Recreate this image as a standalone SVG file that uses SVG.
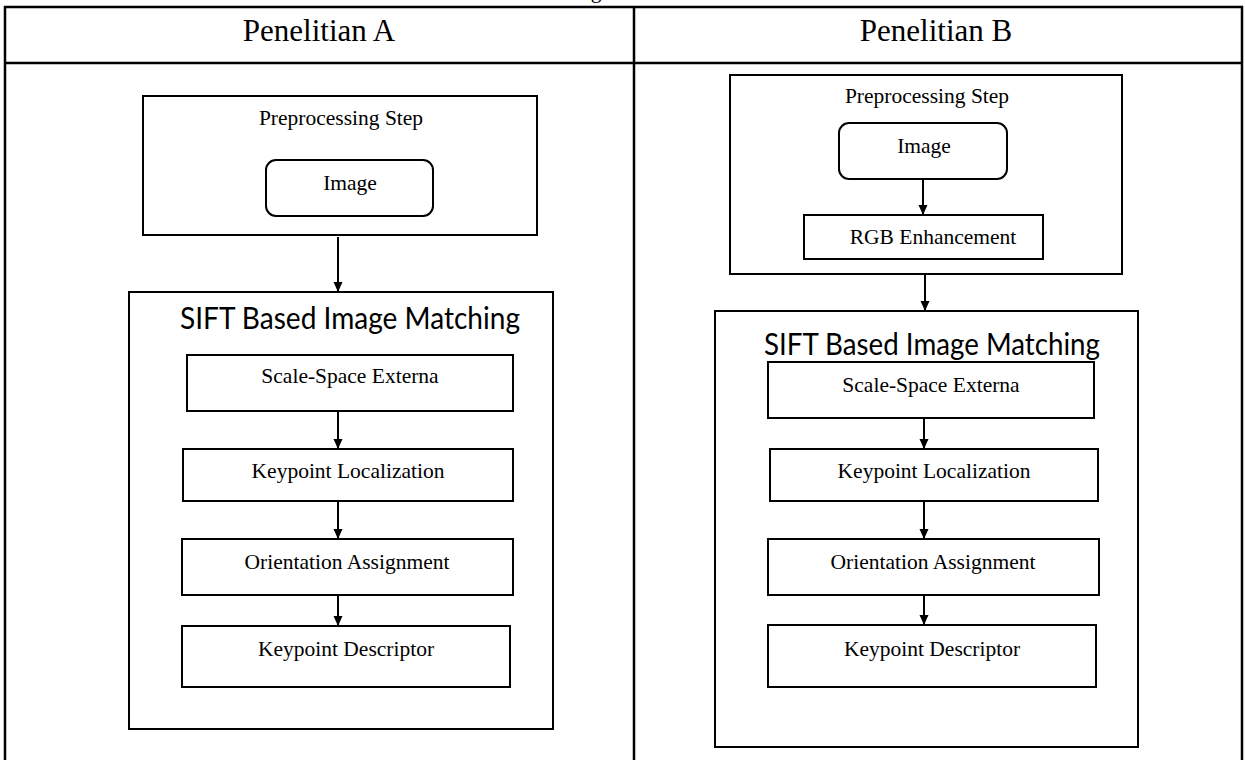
<svg xmlns="http://www.w3.org/2000/svg" width="1245" height="760" viewBox="0 0 1245 760">
  <style>
    .tbl { stroke: #000; stroke-width: 2.5; fill: none; }
    .box { fill: #fff; stroke: #000; stroke-width: 2; }
    .lbl { font-family: "Liberation Serif", "Times New Roman", serif; font-size: 21.5px; fill: #000; text-anchor: middle; }
    .hdr { font-family: "Liberation Serif", "Times New Roman", serif; font-size: 31px; fill: #000; text-anchor: middle; }
    .ttl { font-family: Lato, "Open Sans", "Liberation Sans", sans-serif; font-size: 30px; fill: #000; text-anchor: middle; }
    .conn { stroke: #000; stroke-width: 2; fill: none; }
  </style>
  <defs>
    <marker id="arr" markerUnits="userSpaceOnUse" markerWidth="12" markerHeight="12" refX="10" refY="6" orient="auto">
      <path d="M0,1.5 L10,6 L0,10.5 Z" fill="#000"/>
    </marker>
  </defs>
  <rect width="1245" height="760" fill="#fff"/>

  <text class="lbl" x="596" y="-2" font-size="22">g</text>

  <g id="table">
    <line class="tbl" x1="4" y1="7" x2="1243" y2="7"/>
    <line class="tbl" x1="4" y1="63" x2="1243" y2="63"/>
    <line class="tbl" x1="5" y1="6" x2="5" y2="760"/>
    <line class="tbl" x1="634" y1="6" x2="634" y2="760"/>
    <line class="tbl" x1="1242" y1="6" x2="1242" y2="760"/>
    <text class="hdr" x="319" y="41">Penelitian A</text>
    <text class="hdr" x="936" y="41">Penelitian B</text>
  </g>

  <!-- Penelitian A -->
  <g id="a-pre">
    <rect class="box" x="143" y="96" width="394" height="139"/>
    <text class="lbl" x="341" y="125">Preprocessing Step</text>
  </g>
  <g id="a-image">
    <rect class="box" x="266" y="160" width="167" height="56" rx="10"/>
    <text class="lbl" x="350" y="190">Image</text>
  </g>
  <g id="a-sift">
    <rect class="box" x="129" y="292" width="424" height="437"/>
    <text class="ttl" x="350" y="329" textLength="340" lengthAdjust="spacingAndGlyphs">SIFT Based Image Matching</text>
  </g>
  <g id="a-scale">
    <rect class="box" x="187" y="355" width="326" height="56"/>
    <text class="lbl" x="350" y="383">Scale-Space Externa</text>
  </g>
  <g id="a-kl">
    <rect class="box" x="183" y="449" width="330" height="52"/>
    <text class="lbl" x="348" y="478">Keypoint Localization</text>
  </g>
  <g id="a-oa">
    <rect class="box" x="182" y="539" width="331" height="56"/>
    <text class="lbl" x="347" y="569">Orientation Assignment</text>
  </g>
  <g id="a-kd">
    <rect class="box" x="182" y="626" width="328" height="61"/>
    <text class="lbl" x="346" y="656">Keypoint Descriptor</text>
  </g>

  <!-- Penelitian B -->
  <g id="b-pre">
    <rect class="box" x="730" y="75" width="392" height="199"/>
    <text class="lbl" x="927" y="103">Preprocessing Step</text>
  </g>
  <g id="b-image">
    <rect class="box" x="839" y="123" width="168" height="56" rx="10"/>
    <text class="lbl" x="924" y="153">Image</text>
  </g>
  <g id="b-rgb">
    <rect class="box" x="804" y="215" width="239" height="44"/>
    <text class="lbl" x="933" y="244">RGB Enhancement</text>
  </g>
  <g id="b-sift">
    <rect class="box" x="715" y="311" width="423" height="436"/>
    <text class="ttl" x="932" y="355" textLength="336" lengthAdjust="spacingAndGlyphs">SIFT Based Image Matching</text>
  </g>
  <g id="b-scale">
    <rect class="box" x="768" y="362" width="326" height="56"/>
    <text class="lbl" x="931" y="392">Scale-Space Externa</text>
  </g>
  <g id="b-kl">
    <rect class="box" x="770" y="449" width="328" height="52"/>
    <text class="lbl" x="934" y="478">Keypoint Localization</text>
  </g>
  <g id="b-oa">
    <rect class="box" x="768" y="539" width="331" height="56"/>
    <text class="lbl" x="933" y="569">Orientation Assignment</text>
  </g>
  <g id="b-kd">
    <rect class="box" x="768" y="625" width="328" height="62"/>
    <text class="lbl" x="932" y="656">Keypoint Descriptor</text>
  </g>

  <g id="connectors">
    <line class="conn" x1="338" y1="237" x2="338" y2="292" marker-end="url(#arr)"/>
    <line class="conn" x1="338" y1="412" x2="338" y2="449" marker-end="url(#arr)"/>
    <line class="conn" x1="338" y1="502" x2="338" y2="539" marker-end="url(#arr)"/>
    <line class="conn" x1="338" y1="596" x2="338" y2="626" marker-end="url(#arr)"/>
    <line class="conn" x1="923" y1="180" x2="923" y2="215" marker-end="url(#arr)"/>
    <line class="conn" x1="925" y1="275" x2="925" y2="311" marker-end="url(#arr)"/>
    <line class="conn" x1="924" y1="419" x2="924" y2="449" marker-end="url(#arr)"/>
    <line class="conn" x1="924" y1="502" x2="924" y2="539" marker-end="url(#arr)"/>
    <line class="conn" x1="924" y1="596" x2="924" y2="625" marker-end="url(#arr)"/>
  </g>
</svg>
